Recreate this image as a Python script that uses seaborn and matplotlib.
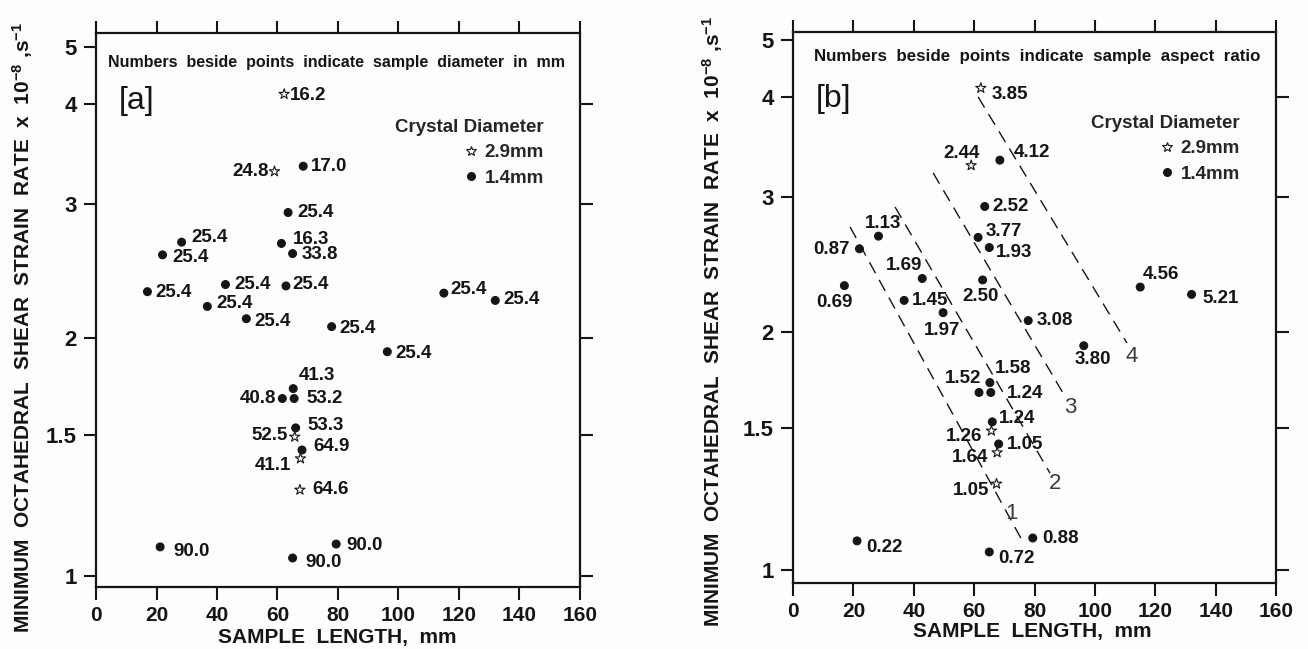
import numpy as np
import pandas as pd
import matplotlib
matplotlib.use("Agg")
import matplotlib.pyplot as plt
import seaborn as sns

# ============================================================
#  Data
# ============================================================
sample_length = [62.2, 59.0, 68.5, 63.5, 28.3, 22.0, 61.3, 65.0, 17.0, 42.8,
                 62.8, 36.8, 49.7, 115.0, 132.0, 77.9, 96.3, 65.2, 65.5, 61.6,
                 66.0, 65.7, 68.1, 67.6, 67.4, 21.2, 65.0, 79.4]
strain_rate = [4.15, 3.29, 3.34, 2.92, 2.67, 2.57, 2.66, 2.58, 2.30, 2.35,
               2.34, 2.20, 2.12, 2.29, 2.24, 2.07, 1.92, 1.72, 1.67, 1.67,
               1.53, 1.49, 1.435, 1.40, 1.28, 1.087, 1.053, 1.096]
crystal = ["2.9mm", "2.9mm", "1.4mm", "1.4mm", "1.4mm", "1.4mm", "1.4mm",
           "1.4mm", "1.4mm", "1.4mm", "1.4mm", "1.4mm", "1.4mm", "1.4mm",
           "1.4mm", "1.4mm", "1.4mm", "1.4mm", "1.4mm", "1.4mm", "1.4mm",
           "2.9mm", "1.4mm", "2.9mm", "2.9mm", "1.4mm", "1.4mm", "1.4mm"]
diameter_labels = ["16.2", "24.8", "17.0", "25.4", "25.4", "25.4", "16.3",
                   "33.8", "25.4", "25.4", "25.4", "25.4", "25.4", "25.4",
                   "25.4", "25.4", "25.4", "41.3", "53.2", "40.8", "53.3",
                   "52.5", "64.9", "41.1", "64.6", "90.0", "90.0", "90.0"]
aspect_labels = ["3.85", "2.44", "4.12", "2.52", "1.13", "0.87", "3.77",
                 "1.93", "0.69", "1.69", "2.50", "1.45", "1.97", "4.56",
                 "5.21", "3.08", "3.80", "1.58", "1.24", "1.52", "1.24",
                 "1.26", "1.05", "1.64", "1.05", "0.22", "0.72", "0.88"]

# dashed lines of panel b: (x0, y0) -> (x1, y1)
line_names = ["1", "2", "3", "4"]
line_x0 = [18.9, 33.8, 46.4, 61.3]
line_y0 = [2.745, 2.915, 3.22, 4.01]
line_x1 = [76.2, 85.1, 89.4, 110.6]
line_y1 = [1.083, 1.32, 1.668, 1.935]
line_label_x = [72.2, 86.8, 91.8, 112.3]
line_label_y = [1.177, 1.283, 1.595, 1.857]

x_ticks = [0, 20, 40, 60, 80, 100, 120, 140, 160]
y_ticks_left = [1, 1.5, 2, 3, 4, 5]
y_tick_labels = ["1", "1.5", "2", "3", "4", "5"]
y_ticks_right = [1, 1.5, 2, 3, 4]

# label placement (pixel offsets from marker, horizontal alignment)
off_a = [(6, -1, "left"), (-6, 0, "right"), (8, 0, "left"), (9, 0, "left"),
         (10, 5, "left"), (10, -3, "left"), (11, 4, "left"), (9, -1, "left"),
         (8, -1, "left"), (9, 0, "left"), (6, 1, "left"), (9, 3, "left"),
         (8, -3, "left"), (7, 4, "left"), (8, 1, "left"), (8, -2, "left"),
         (8, -2, "left"), (6, 13, "left"), (12, 0, "left"), (-6, 0, "right"),
         (12, 2, "left"), (-7, 1, "right"), (11, 3, "left"), (-9, -7, "right"),
         (12, 0, "left"), (13, -5, "left"), (13, -5, "left"), (10, -1, "left")]
off_b = [(11, -6, "left"), (-10, 12, "center"), (14, 8, "left"), (8, 0, "left"),
         (5, 13, "center"), (-10, -1, "right"), (8, 6, "left"), (7, -5, "left"),
         (-10, -17, "center"), (-18, 13, "center"), (-2, -17, "center"), (8, 0, "left"),
         (-1, -18, "center"), (3, 13, "left"), (11, -4, "left"), (8, 0, "left"),
         (9, -14, "center"), (5, 14, "left"), (16, -1, "left"), (-16, 14, "center"),
         (7, 3, "left"), (-9, -6, "right"), (8, -1, "left"), (-9, -5, "right"),
         (-7, -7, "right"), (9, -7, "left"), (9, -7, "left"), (9, 0, "left")]

# calibration of the printed (not quite logarithmic) strain-rate axis
scale_vals = [0.5, 1, 1.5, 2, 3, 4, 5, 10]
scale_pos = [-242.6, 0, 141.5, 238, 372.5, 472.5, 529.5, 706.5]
scale_log = np.log10(scale_vals)


def fwd(v):
    v = np.maximum(np.asarray(v, dtype=float), 1e-6)
    return np.interp(np.log10(v), scale_log, scale_pos)


def inv(p):
    return 10 ** np.interp(np.asarray(p, dtype=float), scale_pos, scale_log)


df = pd.DataFrame({"length": sample_length, "rate": strain_rate, "crystal": crystal})

# ============================================================
#  Style
# ============================================================
sns.set_style("ticks")
plt.rcParams["font.family"] = ["Liberation Sans", "DejaVu Sans"]
plt.rcParams["mathtext.fontset"] = "custom"
plt.rcParams["mathtext.bf"] = "Liberation Sans:bold"
plt.rcParams["mathtext.rm"] = "Liberation Sans:bold"
plt.rcParams["mathtext.default"] = "bf"
INK = "#151515"
BG = "#fdfdfb"
TICK_KW = dict(direction="out", length=9, width=1.5, colors=INK)

fig = plt.figure(figsize=(13.08, 6.49), dpi=100, facecolor=BG)
ax_a = fig.add_axes([0.0734, 0.0955, 0.3700, 0.8536])
ax_b = fig.add_axes([0.6063, 0.1017, 0.3693, 0.8490])

panels = [
    (ax_a, diameter_labels, off_a, "[a]",
     "Numbers  beside  points  indicate  sample  diameter  in  mm", 11.5, (-11, 543),
     (-0.126, 0.469), (0.498, -0.074), (0.925, 0.845), (0.496, 0.946)),
    (ax_b, aspect_labels, off_b, "[b]",
     "Numbers  beside  points  indicate  sample  aspect  ratio", 12.2, (-13, 538),
     (-0.141, 0.474), (0.495, -0.071), (0.925, 0.85), (0.505, 0.955)),
]

for ax, labels, offs, tag, note, note_fs, ylim_px, ylab_xy, xlab_xy, leg_xy, note_xy in panels:
    ax.set_facecolor(BG)
    ax.set_yscale("function", functions=(fwd, inv))

    sns.scatterplot(data=df, x="length", y="rate", hue="crystal", style="crystal",
                    size="crystal", hue_order=["2.9mm", "1.4mm"],
                    palette={"2.9mm": "white", "1.4mm": INK},
                    markers={"2.9mm": "*", "1.4mm": "o"},
                    sizes={"2.9mm": 60, "1.4mm": 32},
                    edgecolor=INK, linewidth=0.8, ax=ax, zorder=3)

    for xv, yv, lab, (dx, dy, ha) in zip(sample_length, strain_rate, labels, offs):
        ax.annotate(lab, xy=(xv, yv), xytext=(dx, dy), textcoords="offset pixels",
                    ha=ha, va="center", fontsize=13.5, fontweight="bold", color=INK)

    lo, hi = inv(ylim_px[0]), inv(ylim_px[1])

    ax.set_xlim(0, 160)
    ax.set_ylim(lo, hi)
    ax.set_xticks(x_ticks)
    ax.set_yticks(y_ticks_left, labels=y_tick_labels)
    ax.yaxis.set_minor_locator(matplotlib.ticker.NullLocator())
    ax.xaxis.set_minor_locator(matplotlib.ticker.NullLocator())
    ax.tick_params(axis="x", labelsize=15, pad=5, **TICK_KW)
    ax.tick_params(axis="y", labelsize=16, pad=5, **TICK_KW)
    for lab in ax.get_xticklabels() + ax.get_yticklabels():
        lab.set_fontweight("bold")
    for sp in ax.spines.values():
        sp.set_linewidth(1.6)
        sp.set_color(INK)
        sp.set_visible(True)

    # right-hand ticks (no 5 on this side)
    ax_r = ax.twinx()
    ax_r.set_yscale("function", functions=(fwd, inv))
    ax_r.set_ylim(lo, hi)
    ax_r.set_yticks(y_ticks_right)
    ax_r.yaxis.set_minor_locator(matplotlib.ticker.NullLocator())
    ax_r.tick_params(axis="y", labelright=False, left=False, right=True, **TICK_KW)
    for sp in ax_r.spines.values():
        sp.set_visible(False)

    # top ticks
    ax_t = ax.twiny()
    ax_t.set_xlim(0, 160)
    ax_t.set_xticks(x_ticks)
    ax_t.xaxis.set_minor_locator(matplotlib.ticker.NullLocator())
    ax_t.tick_params(axis="x", labeltop=False, bottom=False, top=True, **TICK_KW)
    for sp in ax_t.spines.values():
        sp.set_visible(False)

    ax.set_xlabel("SAMPLE  LENGTH,  mm", fontsize=15, fontweight="bold", color=INK)
    ax.xaxis.set_label_coords(*xlab_xy)
    ax.set_ylabel("MINIMUM  OCTAHEDRAL  SHEAR  STRAIN  RATE  x  10$^{-8}$ ,s$^{-1}$",
                  fontsize=15, fontweight="bold", color=INK)
    ax.yaxis.set_label_coords(*ylab_xy)

    ax.text(note_xy[0], note_xy[1], note, transform=ax.transAxes, ha="center",
            va="center", fontsize=note_fs, fontweight="bold", color=INK)
    ax.text(0.083, 0.878, tag, transform=ax.transAxes, ha="center", va="center",
            fontsize=23, color=INK)

    handles, names = ax.get_legend_handles_labels()
    for h in handles:
        h.set_markeredgecolor(INK)
        h.set_markeredgewidth(0.8)
    ax.legend(handles, names, title="Crystal Diameter", loc="upper right",
              bbox_to_anchor=leg_xy, frameon=False, alignment="right",
              handlelength=0.6, handletextpad=0.4, labelspacing=0.45,
              borderpad=0, borderaxespad=0,
              prop={"size": 13.5, "weight": "bold"},
              title_fontproperties={"size": 13.5, "weight": "bold"})

# constant-ratio guide lines in panel b
for name, x0, y0, x1, y1, lx, ly in zip(line_names, line_x0, line_y0, line_x1, line_y1,
                                        line_label_x, line_label_y):
    ax_b.plot([x0, x1], [y0, y1], color=INK, lw=1.0, linestyle=(0, (9, 5.5)), zorder=2)
    ax_b.text(lx, ly, name, fontsize=16, color="#3a3a3a", ha="center", va="center")

fig.savefig("out.png", dpi=100, facecolor=BG)
